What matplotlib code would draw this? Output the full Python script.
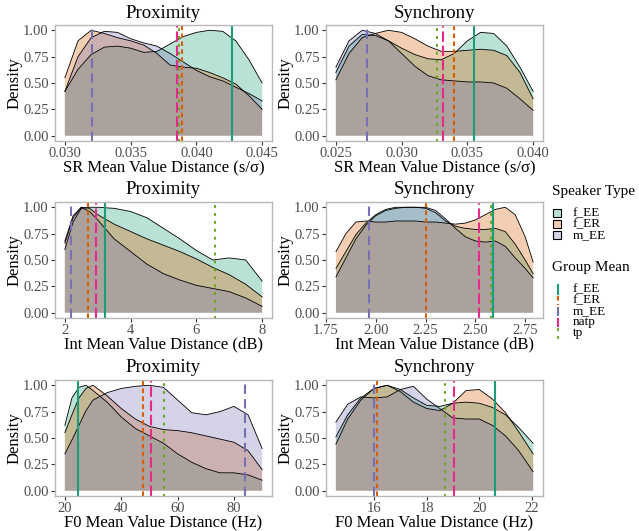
import matplotlib
matplotlib.use("Agg")
import matplotlib.pyplot as plt
from matplotlib.lines import Line2D
from matplotlib.patches import Rectangle

plt.rcParams['font.family'] = ['Liberation Serif', 'DejaVu Serif']

# ---------------- data ----------------
speakers = ["f_EE", "f_ER", "m_EE"]
mean_groups = ["f_EE", "f_ER", "m_EE", "natp", "tp"]
titles = ["Proximity", "Synchrony"]

# SR Proximity
sr_prox_x = [0.030, 0.031, 0.032, 0.033, 0.034, 0.035, 0.036, 0.037, 0.038, 0.039, 0.040, 0.041, 0.042, 0.043, 0.044, 0.045]
sr_prox_fEE = [0.42, 0.63, 0.77, 0.84, 0.85, 0.83, 0.79, 0.80, 0.87, 0.94, 0.98, 1.00, 0.99, 0.90, 0.72, 0.50]
sr_prox_fER = [0.55, 0.90, 1.00, 0.97, 0.93, 0.90, 0.86, 0.78, 0.67, 0.65, 0.64, 0.60, 0.55, 0.49, 0.38, 0.25]
sr_prox_mEE = [0.42, 0.75, 0.93, 0.99, 0.98, 0.92, 0.88, 0.85, 0.78, 0.70, 0.62, 0.56, 0.52, 0.46, 0.40, 0.33]
sr_prox_means = [0.0427, 0.0389, 0.03206, 0.0385, 0.0387]

# SR Synchrony
sr_sync_x = [0.025, 0.026, 0.027, 0.028, 0.029, 0.030, 0.031, 0.032, 0.033, 0.034, 0.035, 0.036, 0.037, 0.038, 0.039, 0.040]
sr_sync_fEE = [0.60, 0.85, 0.96, 0.95, 0.90, 0.83, 0.77, 0.73, 0.72, 0.78, 0.90, 0.98, 0.97, 0.85, 0.65, 0.42]
sr_sync_fER = [0.53, 0.78, 0.93, 0.97, 1.00, 0.98, 0.92, 0.85, 0.80, 0.80, 0.81, 0.82, 0.81, 0.76, 0.60, 0.35]
sr_sync_mEE = [0.65, 0.90, 1.00, 0.97, 0.90, 0.78, 0.66, 0.57, 0.53, 0.52, 0.51, 0.51, 0.50, 0.45, 0.35, 0.24]
sr_sync_means = [0.03548, 0.03401, 0.02736, 0.03317, 0.03271]

# Int Proximity
int_prox_x = [2.0, 2.25, 2.5, 2.75, 3.0, 3.5, 4.0, 4.5, 5.0, 5.5, 6.0, 6.5, 7.0, 7.5, 8.0]
int_prox_fEE = [0.60, 0.86, 0.99, 1.00, 1.00, 0.99, 0.96, 0.90, 0.80, 0.70, 0.59, 0.50, 0.52, 0.50, 0.30]
int_prox_fER = [0.66, 0.90, 1.00, 0.99, 0.93, 0.84, 0.77, 0.70, 0.64, 0.58, 0.51, 0.43, 0.36, 0.27, 0.15]
int_prox_mEE = [0.68, 0.92, 1.00, 0.96, 0.88, 0.70, 0.58, 0.46, 0.37, 0.31, 0.26, 0.23, 0.20, 0.14, 0.06]
int_prox_means = [3.21, 2.69, 2.20, 2.94, 6.58]

# Int Synchrony
int_sync_x = [1.80, 1.85, 1.90, 1.95, 2.00, 2.05, 2.10, 2.15, 2.20, 2.25, 2.30, 2.35, 2.40, 2.45, 2.50, 2.55, 2.60, 2.65, 2.70, 2.75, 2.79]
int_sync_fEE = [0.42, 0.58, 0.74, 0.85, 0.93, 0.98, 1.00, 1.00, 1.00, 0.99, 0.95, 0.87, 0.82, 0.80, 0.79, 0.79, 0.80, 0.77, 0.65, 0.50, 0.37]
int_sync_fER = [0.58, 0.75, 0.86, 0.87, 0.86, 0.86, 0.87, 0.87, 0.87, 0.86, 0.86, 0.85, 0.84, 0.85, 0.88, 0.93, 0.98, 1.00, 0.93, 0.72, 0.48]
int_sync_mEE = [0.34, 0.52, 0.70, 0.83, 0.92, 0.97, 0.99, 1.00, 1.00, 1.00, 0.97, 0.89, 0.80, 0.72, 0.68, 0.67, 0.68, 0.63, 0.52, 0.42, 0.33]
int_sync_means = [2.587, 2.25, 1.967, 2.516, 2.578]

# F0 Proximity
f0_prox_x = [20, 22.5, 25, 27.5, 30, 35, 40, 45, 50, 55, 60, 65, 70, 75, 80, 85, 90]
f0_prox_fEE = [0.62, 0.88, 0.98, 1.00, 0.95, 0.84, 0.70, 0.59, 0.52, 0.45, 0.35, 0.27, 0.21, 0.17, 0.17, 0.15, 0.10]
f0_prox_fER = [0.55, 0.72, 0.88, 0.97, 1.00, 0.90, 0.78, 0.68, 0.61, 0.58, 0.57, 0.55, 0.52, 0.49, 0.46, 0.38, 0.20]
f0_prox_mEE = [0.35, 0.48, 0.62, 0.76, 0.86, 0.93, 0.97, 0.99, 1.00, 0.98, 0.86, 0.74, 0.72, 0.75, 0.80, 0.72, 0.40]
f0_prox_means = [24.8, 47.7, 84.0, 50.6, 55.3]

# F0 Synchrony
f0_sync_x = [14.55, 15.0, 15.5, 16.0, 16.5, 17.0, 17.5, 18.0, 18.5, 19.0, 19.5, 20.0, 20.5, 21.0, 21.5, 22.05]
f0_sync_fEE = [0.51, 0.72, 0.88, 0.97, 1.00, 0.96, 0.88, 0.81, 0.80, 0.83, 0.84, 0.83, 0.79, 0.72, 0.60, 0.45]
f0_sync_fER = [0.44, 0.68, 0.86, 0.97, 1.00, 0.94, 0.84, 0.78, 0.76, 0.83, 0.95, 0.96, 0.87, 0.74, 0.56, 0.35]
f0_sync_mEE = [0.65, 0.82, 0.89, 0.88, 0.89, 0.96, 0.99, 0.87, 0.78, 0.69, 0.68, 0.68, 0.62, 0.52, 0.38, 0.18]
f0_sync_means = [20.61, 16.13, 16.0, 19.05, 18.71]

# tick labels
sr_prox_ticks = [0.030, 0.035, 0.040, 0.045]
sr_sync_ticks = [0.025, 0.030, 0.035, 0.040]
int_prox_ticks = [2, 4, 6, 8]
int_sync_ticks = [1.75, 2.00, 2.25, 2.50, 2.75]
f0_prox_ticks = [20, 40, 60, 80]
f0_sync_ticks = [16, 18, 20, 22]
y_ticks = [0.00, 0.25, 0.50, 0.75, 1.00]

x_labels = ["SR Mean Value Distance (s/\u03c3)", "Int Mean Value Distance (dB)", "F0 Mean Value Distance (Hz)"]

# ---------------- styling ----------------
speaker_colors = ["#1B9E77", "#D95F02", "#7570B3"]
mean_colors = ["#1B9E77", "#D95F02", "#7570B3", "#E7298A", "#66A61E"]
mean_styles = ["-", (0, (2.2, 1.6)), (0, (4.5, 2.5)), (0, (5, 1.8)), (0, (0.6, 3.2))]
mean_caps = ["butt", "butt", "butt", "butt", "round"]
fill_alpha = 0.3

panels = [
    (sr_prox_x, [sr_prox_fEE, sr_prox_fER, sr_prox_mEE], sr_prox_means, sr_prox_ticks, "{:.3f}"),
    (sr_sync_x, [sr_sync_fEE, sr_sync_fER, sr_sync_mEE], sr_sync_means, sr_sync_ticks, "{:.3f}"),
    (int_prox_x, [int_prox_fEE, int_prox_fER, int_prox_mEE], int_prox_means, int_prox_ticks, "{:g}"),
    (int_sync_x, [int_sync_fEE, int_sync_fER, int_sync_mEE], int_sync_means, int_sync_ticks, "{:.2f}"),
    (f0_prox_x, [f0_prox_fEE, f0_prox_fER, f0_prox_mEE], f0_prox_means, f0_prox_ticks, "{:g}"),
    (f0_sync_x, [f0_sync_fEE, f0_sync_fER, f0_sync_mEE], f0_sync_means, f0_sync_ticks, "{:g}"),
]

W, H = 639, 531
fig = plt.figure(figsize=(W / 100, H / 100), dpi=100)

col_left = [55, 326]
panel_w = 217
row_top = [25, 202, 380]
panel_h = 116

grey_text = "#4D4D4D"
for i, (xs, curves, means, ticks, fmt) in enumerate(panels):
    r, c = divmod(i, 2)
    ax = fig.add_axes([col_left[c] / W, 1 - (row_top[r] + panel_h) / H, panel_w / W, panel_h / H])
    for ys, col in zip(curves, speaker_colors):
        ax.fill_between(xs, 0, ys, facecolor=col, alpha=fill_alpha, linewidth=0)
    for ys in curves:
        ax.plot(xs, ys, color="black", lw=0.6)
    for m, col, ls, cap in zip(means, mean_colors, mean_styles, mean_caps):
        ax.axvline(m, color=col, ls=ls, lw=1.5, dash_capstyle=cap)
    xmin, xmax = xs[0], xs[-1]
    pad = 0.05 * (xmax - xmin)
    ax.set_xlim(xmin - pad, xmax + pad)
    ax.set_ylim(-0.05, 1.05)
    ax.set_xticks(ticks)
    ax.set_xticklabels([fmt.format(t) for t in ticks])
    ax.set_yticks(y_ticks)
    ax.set_yticklabels(["{:.2f}".format(t) for t in y_ticks])
    ax.tick_params(axis="both", labelsize=10.5, colors="#333333", labelcolor=grey_text,
                   length=3, width=0.8, pad=1.5)
    for s in ax.spines.values():
        s.set_color("#B8B8B8")
        s.set_linewidth(1.0)
    ax.set_xlabel(x_labels[r], fontsize=12, va="center")
    ax.xaxis.set_label_coords(0.5, -26 / panel_h)
    ax.set_ylabel("Density", fontsize=12, va="center")
    ax.yaxis.set_label_coords(-40 / panel_w, 0.5)
    ax.text(0.5, 1 + 12 / panel_h, titles[c], transform=ax.transAxes,
            ha="center", va="center", fontsize=13.5)

# ---------------- legends (figure pixel coords) ----------------
def fx(px):
    return px / W

def fy(py):
    return 1 - py / H

fig.text(fx(552), fy(192), "Speaker Type", fontsize=11, ha="left", va="center")
for j, (name, col) in enumerate(zip(speakers, speaker_colors)):
    yc = 213.0 + 11.0 * j
    fig.add_artist(Rectangle((fx(553), fy(yc + 3.8)), 7.5 / W, 7.5 / H, transform=fig.transFigure,
                             facecolor=col, alpha=fill_alpha, edgecolor="none"))
    fig.add_artist(Rectangle((fx(553), fy(yc + 3.8)), 7.5 / W, 7.5 / H, transform=fig.transFigure,
                             facecolor="none", edgecolor="black", lw=0.8))
    fig.text(fx(573), fy(yc), name, fontsize=9.5, ha="left", va="center")

fig.text(fx(552), fy(268), "Group Mean", fontsize=11, ha="left", va="center")
for j, (name, col, ls, cap) in enumerate(zip(mean_groups, mean_colors, mean_styles, mean_caps)):
    yc = 289.0 + 11.0 * j
    fig.add_artist(Line2D([fx(558), fx(558)], [fy(yc - 4.5), fy(yc + 4.5)], transform=fig.transFigure,
                          color=col, ls=ls, lw=1.5, dash_capstyle=cap))
    fig.text(fx(573), fy(yc), name, fontsize=9.5, ha="left", va="center")

fig.savefig("out.png", dpi=100)
